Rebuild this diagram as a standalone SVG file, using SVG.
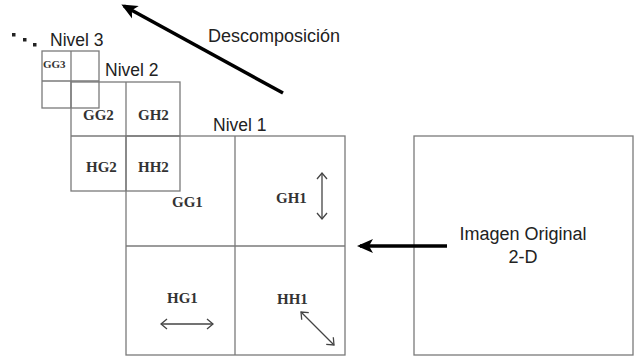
<svg xmlns="http://www.w3.org/2000/svg" width="636" height="360" viewBox="0 0 636 360">
<defs>
<marker id="solidB" markerWidth="16" markerHeight="16" refX="13" refY="8" orient="auto" markerUnits="userSpaceOnUse" viewBox="0 0 16 16">
<path d="M0,1 L16,8 L0,15 L4,8 Z" fill="#000"/>
</marker>
<marker id="open" markerWidth="8" markerHeight="12" refX="7" refY="6" orient="auto-start-reverse" markerUnits="userSpaceOnUse" viewBox="0 0 8 12">
<path d="M1,1 L7,6 L1,11" fill="none" stroke="#444" stroke-width="1.3"/>
</marker>
</defs>
<style>
.box{fill:none;stroke:#7a7a7a;stroke-width:1.3}
.lbl{font-family:"Liberation Sans",Arial,sans-serif;font-size:18px;fill:#222}
.cell{font-family:"Liberation Serif","Times New Roman",serif;font-weight:bold;font-size:15px;fill:#333}
.thick{stroke:#000;stroke-width:3.5;fill:none}
.thin{stroke:#444;stroke-width:1.3;fill:none}
</style>
<rect width="636" height="360" fill="#fff"/>

<g id="nivel3">
<rect class="box" x="42" y="51" width="57" height="57"/>
<line class="box" x1="71" y1="51" x2="71" y2="108"/>
<line class="box" x1="42" y1="81" x2="99" y2="81"/>
<text class="cell" x="43" y="68" style="font-size:11px">GG3</text>
<text class="lbl" x="50" y="46" style="font-size:17.5px">Nivel 3</text>
<rect x="12" y="33" width="3.5" height="3.5" fill="#222"/>
<rect x="23" y="38" width="3.5" height="3.5" fill="#222"/>
<rect x="33" y="43" width="3.5" height="3.5" fill="#222"/>
</g>

<g id="nivel2">
<rect class="box" x="71" y="82" width="109" height="109"/>
<line class="box" x1="126" y1="82" x2="126" y2="191"/>
<line class="box" x1="71" y1="136" x2="180" y2="136"/>
<text class="lbl" x="105" y="76" style="font-size:17.5px">Nivel 2</text>
<text class="cell" x="83" y="120">GG2</text>
<text class="cell" x="138" y="120">GH2</text>
<text class="cell" x="86" y="172">HG2</text>
<text class="cell" x="138" y="172">HH2</text>
</g>

<g id="nivel1">
<rect class="box" x="126" y="136" width="219" height="219"/>
<line class="box" x1="235" y1="136" x2="235" y2="355"/>
<line class="box" x1="126" y1="246" x2="345" y2="246"/>
<text class="lbl" x="213" y="131" style="font-size:17.5px">Nivel 1</text>
<text class="cell" x="172" y="207">GG1</text>
<text class="cell" x="276" y="203">GH1</text>
<text class="cell" x="167" y="303">HG1</text>
<text class="cell" x="277" y="304">HH1</text>
</g>

<g id="original">
<rect class="box" x="414" y="136" width="219" height="219"/>
<text class="lbl" x="523" y="240" text-anchor="middle">Imagen Original</text>
<text class="lbl" x="523" y="263" text-anchor="middle">2-D</text>
</g>

<g id="descomposicion-label">
<text class="lbl" x="208" y="42">Descomposición</text>
</g>

<g id="connectors">
<line class="thick" x1="447" y1="246" x2="360" y2="246" marker-end="url(#solidB)"/>
<line class="thick" x1="283" y1="93" x2="124" y2="6" marker-end="url(#solidB)"/>
<line class="thin" x1="322" y1="173" x2="322" y2="219" marker-start="url(#open)" marker-end="url(#open)"/>
<line class="thin" x1="161" y1="324" x2="213" y2="324" marker-start="url(#open)" marker-end="url(#open)"/>
<line class="thin" x1="301" y1="312" x2="334" y2="345" marker-start="url(#open)" marker-end="url(#open)"/>
</g>
</svg>
